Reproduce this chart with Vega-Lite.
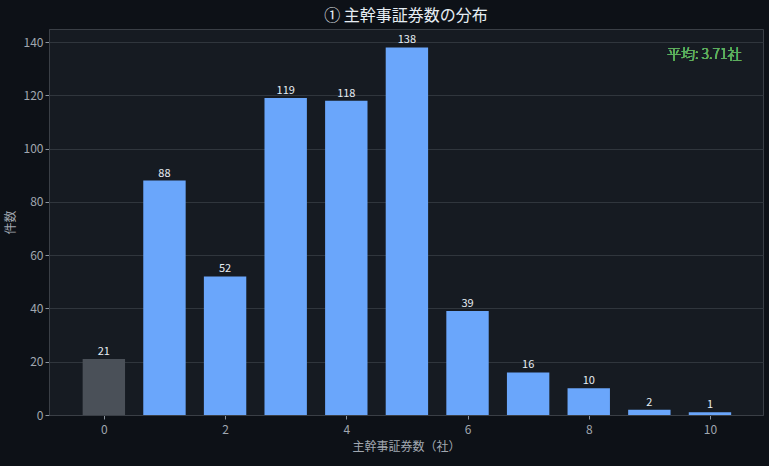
{
  "$schema": "https://vega.github.io/schema/vega-lite/v6.json",
  "width": 714,
  "height": 386,
  "autosize": {"type": "none"},
  "padding": {"left": 49, "top": 29, "right": 6, "bottom": 51},
  "background": "#0d1117",
  "config": {
    "font": "Noto Sans CJK JP",
    "view": {"fill": "#161b22", "stroke": "#3a3f46", "strokeWidth": 1},
    "axis": {
      "labelColor": "#a0a7b0",
      "titleColor": "#a0a7b0",
      "labelFontSize": 12,
      "titleFontSize": 12,
      "titleFontWeight": "normal",
      "domainColor": "#3a3f46",
      "tickColor": "#8b949e",
      "tickSize": 4,
      "gridColor": "#30363d",
      "labelFont": "Noto Sans CJK JP",
      "titleFont": "Noto Sans CJK JP"
    }
  },
  "title": {
    "text": "① 主幹事証券数の分布",
    "color": "#e6edf3",
    "fontSize": 16,
    "fontWeight": "normal",
    "font": "Noto Sans CJK JP",
    "offset": 5
  },
  "data": {
    "values": [
      {"n": 0, "count": 21, "zero": "yes"},
      {"n": 1, "count": 88, "zero": "no"},
      {"n": 2, "count": 52, "zero": "no"},
      {"n": 3, "count": 119, "zero": "no"},
      {"n": 4, "count": 118, "zero": "no"},
      {"n": 5, "count": 138, "zero": "no"},
      {"n": 6, "count": 39, "zero": "no"},
      {"n": 7, "count": 16, "zero": "no"},
      {"n": 8, "count": 10, "zero": "no"},
      {"n": 9, "count": 2, "zero": "no"},
      {"n": 10, "count": 1, "zero": "no"}
    ]
  },
  "layer": [
    {
      "mark": {"type": "bar", "width": 42.4},
      "encoding": {
        "x": {
          "field": "n",
          "type": "quantitative",
          "scale": {"domain": [-0.905, 10.875], "nice": false, "zero": false, "padding": 0},
          "axis": {"values": [0, 2, 4, 6, 8, 10], "format": "d", "grid": false, "title": "主幹事証券数（社）", "titlePadding": 6, "labelPadding": 5}
        },
        "y": {
          "field": "count",
          "type": "quantitative",
          "scale": {"domain": [0, 144.9], "nice": false},
          "axis": {"values": [0, 20, 40, 60, 80, 100, 120, 140], "title": "件数", "titlePadding": 6}
        },
        "color": {
          "field": "zero",
          "type": "nominal",
          "scale": {"domain": ["yes", "no"], "range": ["#4a5058", "#6aa6fb"]},
          "legend": null
        }
      }
    },
    {
      "mark": {"type": "text", "dy": -7, "fontSize": 11, "color": "#e6edf3", "font": "Noto Sans CJK JP"},
      "encoding": {
        "x": {"field": "n", "type": "quantitative"},
        "y": {"field": "count", "type": "quantitative"},
        "text": {"field": "count", "type": "quantitative"}
      }
    },
    {
      "mark": {"type": "text", "align": "right", "fontSize": 14, "fontWeight": 300, "color": "#5fae5f", "font": "Noto Sans CJK JP"},
      "encoding": {
        "x": {"datum": 10.52},
        "y": {"datum": 135},
        "text": {"value": "平均: 3.71社"}
      }
    }
  ]
}
